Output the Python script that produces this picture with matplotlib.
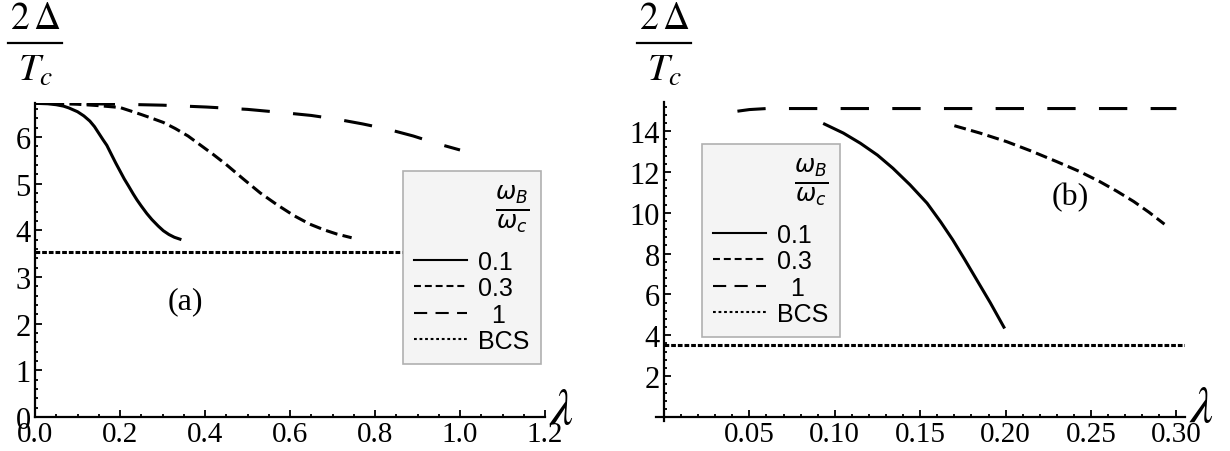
import matplotlib
matplotlib.use("Agg")
import matplotlib.pyplot as plt
from matplotlib.lines import Line2D
from matplotlib.ticker import MultipleLocator, FormatStrFormatter

plt.rcParams['lines.scale_dashes'] = False
plt.rcParams['mathtext.fontset'] = 'stix'
plt.rcParams['font.family'] = ['Liberation Serif', 'DejaVu Serif']

# ---------------- data: panel (a) ----------------
a_lam_01 = [0.0, 0.03, 0.05, 0.067, 0.08, 0.10, 0.115, 0.129, 0.14, 0.15, 0.16,
            0.169, 0.18, 0.19, 0.20, 0.21, 0.22, 0.231, 0.24, 0.25, 0.263,
            0.275, 0.29, 0.302, 0.315, 0.328, 0.341]
a_val_01 = [6.72, 6.71, 6.69, 6.66, 6.62, 6.54, 6.45, 6.34, 6.22, 6.08, 5.94,
            5.82, 5.62, 5.44, 5.27, 5.10, 4.95, 4.78, 4.65, 4.52, 4.36,
            4.23, 4.09, 3.99, 3.91, 3.85, 3.81]

a_lam_03 = [0.0, 0.05, 0.10, 0.15, 0.20, 0.227, 0.25, 0.275, 0.302, 0.33, 0.36,
            0.39, 0.42, 0.451, 0.49, 0.53, 0.569, 0.61, 0.647, 0.68, 0.71, 0.745]
a_val_03 = [6.72, 6.715, 6.70, 6.67, 6.63, 6.55, 6.48, 6.40, 6.31, 6.18, 6.02,
            5.82, 5.62, 5.40, 5.10, 4.80, 4.55, 4.31, 4.13, 4.01, 3.92, 3.84]

a_lam_1 = [0.0, 0.10, 0.20, 0.30, 0.404, 0.50, 0.584, 0.65, 0.71, 0.77, 0.828,
           0.89, 0.945, 1.0]
a_val_1 = [6.72, 6.715, 6.70, 6.68, 6.64, 6.59, 6.52, 6.46, 6.38, 6.28, 6.17,
           6.02, 5.86, 5.72]

a_lam_bcs = [0.0, 1.0]
a_val_bcs = [3.53, 3.53]

# ---------------- data: panel (b) ----------------
b_lam_01 = [0.094, 0.105, 0.115, 0.125, 0.134, 0.144, 0.154, 0.162, 0.169,
            0.176, 0.183, 0.191, 0.199]
b_val_01 = [14.34, 13.90, 13.40, 12.82, 12.18, 11.37, 10.47, 9.55, 8.68,
            7.72, 6.73, 5.60, 4.40]

b_lam_03 = [0.170, 0.185, 0.2006, 0.215, 0.230, 0.243, 0.255, 0.265, 0.275,
            0.284, 0.293]
b_val_03 = [14.26, 13.90, 13.48, 13.02, 12.50, 12.03, 11.53, 11.06, 10.55,
            10.02, 9.44]

b_lam_1 = [0.043, 0.05, 0.06, 0.10, 0.15, 0.20, 0.25, 0.30]
b_val_1 = [14.97, 15.05, 15.10, 15.10, 15.10, 15.10, 15.10, 15.10]

b_lam_bcs = [0.0, 0.305]
b_val_bcs = [3.53, 3.53]

legend_labels = ['0.1', '0.3', '  1', 'BCS']

# ---------------- styles ----------------
LW = 2.2
ST_01 = dict(color='black', lw=LW, linestyle='-')
ST_03 = dict(color='black', lw=LW, linestyle=(0, (8.6, 3.8)))
ST_1 = dict(color='black', lw=LW, linestyle=(0, (20.4, 16.8)))
ST_BCS = dict(color='black', lw=LW, linestyle=(0, (3.4, 1.4)))

fig = plt.figure(figsize=(12.3, 4.52), dpi=100)

axA = fig.add_axes([0.02846, 0.07522, 0.41463, 0.6940])
axB = fig.add_axes([0.5333, 0.0661, 0.43008, 0.7060])


def style_axis(ax):
    for s in ['top', 'right']:
        ax.spines[s].set_visible(False)
    for s in ['left', 'bottom']:
        ax.spines[s].set_linewidth(1.6)
    ax.tick_params(which='both', direction='in', width=1.3, labelsize=22,
                   pad=3)
    ax.tick_params(which='major', length=5)
    ax.tick_params(which='minor', length=2.5)
    ax.patch.set_alpha(0)


# Panel (a)
axA.plot(a_lam_01, a_val_01, **ST_01)
axA.plot(a_lam_03, a_val_03, **ST_03)
axA.plot(a_lam_1, a_val_1, **ST_1)
axA.plot(a_lam_bcs, a_val_bcs, **ST_BCS)
axA.set_xlim(0, 1.2)
axA.set_ylim(0, 6.72)
style_axis(axA)
axA.xaxis.set_major_locator(MultipleLocator(0.2))
axA.xaxis.set_minor_locator(MultipleLocator(0.05))
axA.yaxis.set_major_locator(MultipleLocator(1))
axA.yaxis.set_minor_locator(MultipleLocator(0.2))
axA.xaxis.set_major_formatter(FormatStrFormatter('%.1f'))
axA.yaxis.set_major_formatter(FormatStrFormatter('%d'))
axA.tick_params(axis='x', labelsize=21)
axA.text(0.353, 2.5, '(a)', fontsize=23, ha='center', va='center')

# Panel (b)
axB.plot(b_lam_01, b_val_01, **ST_01)
axB.plot(b_lam_03, b_val_03, **ST_03)
axB.plot(b_lam_1, b_val_1, **ST_1)
axB.plot(b_lam_bcs, b_val_bcs, **ST_BCS)
axB.set_xlim(-0.0047, 0.305)
axB.set_ylim(-0.2, 15.42)
style_axis(axB)
axB.spines['left'].set_position(('data', 0))
axB.spines['bottom'].set_position(('data', 0))
axB.set_xticks([0.05, 0.10, 0.15, 0.20, 0.25, 0.30])
axB.xaxis.set_minor_locator(MultipleLocator(0.01))
axB.set_yticks([2, 4, 6, 8, 10, 12, 14])
axB.yaxis.set_minor_locator(MultipleLocator(0.4))
axB.xaxis.set_major_formatter(FormatStrFormatter('%.2f'))
axB.yaxis.set_major_formatter(FormatStrFormatter('%d'))
axB.tick_params(axis='x', labelsize=21)
axB.text(0.2377, 10.78, '(b)', fontsize=23, ha='center', va='center')

# y-axis labels (fraction 2 Delta / T_c) built from numerator, bar, denominator
for xn, xb0, xb1, xd in [(0.0285, 0.0065, 0.0504, 0.0293),
                         (0.5398, 0.5179, 0.5618, 0.5407)]:
    fig.text(xn, 0.957, r'$2\,\Delta$', fontsize=27, ha='center',
             va='center')
    fig.add_artist(Line2D([xb0, xb1], [0.9027, 0.9027], color='black',
                          lw=1.6, transform=fig.transFigure))
    fig.text(xd, 0.842, r'$T_c$', fontsize=28, ha='center', va='center')

fig.text(0.4565, 0.088, r'$\lambda$', fontsize=37, ha='center', va='center')
fig.text(0.9765, 0.093, r'$\lambda$', fontsize=37, ha='center', va='center')


# legends
def make_handles():
    return [
        Line2D([], [], color='black', lw=1.5, linestyle='-'),
        Line2D([], [], color='black', lw=1.5, linestyle=(0, (5.0, 2.8))),
        Line2D([], [], color='black', lw=1.5, linestyle=(0, (9.5, 6.0))),
        Line2D([], [], color='black', lw=1.5, linestyle=(0, (2.0, 2.0))),
    ]


def add_legend(ax, anchor):
    leg = ax.legend(make_handles(), legend_labels,
                    title=r'$\frac{\omega_B}{\omega_c}$',
                    loc='upper left', bbox_to_anchor=anchor,
                    bbox_transform=fig.transFigure, borderaxespad=0,
                    frameon=True, fancybox=False, facecolor='#f4f4f4',
                    edgecolor='#b0b0b0', framealpha=1,
                    prop={'family': 'Liberation Sans', 'size': 18},
                    handlelength=2.1, handletextpad=0.45, labelspacing=0.1,
                    borderpad=0.45, alignment='right')
    leg.get_frame().set_linewidth(1.2)
    t = leg.get_title()
    t.set_fontsize(25)
    t.set_math_fontfamily('dejavusans')
    leg._legend_box.sep = 12.0
    leg.set_zorder(5)
    return leg


add_legend(axA, (0.3276, 0.6195))
add_legend(axB, (0.5707, 0.6792))

fig.savefig('out.png', dpi=100)
